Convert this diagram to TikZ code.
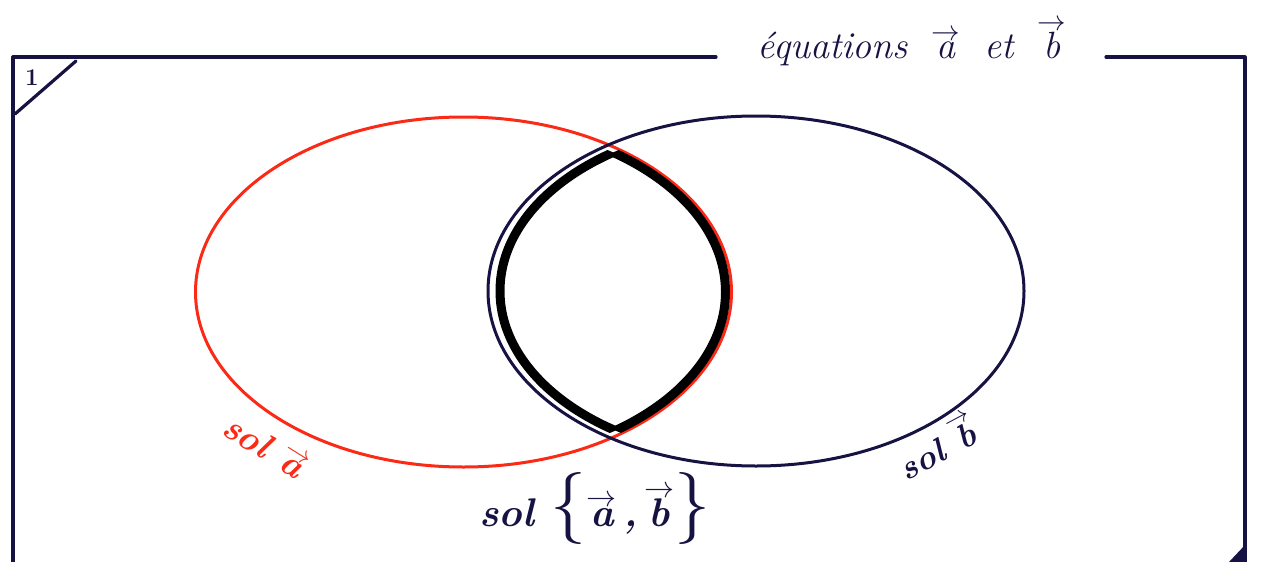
\RequirePackage{fix-cm}
\documentclass[tikz,border=0pt]{standalone}
\definecolor{navy}{RGB}{22,18,66}
\definecolor{redink}{RGB}{250,42,22}
\newcommand\vv[1]{\leavevmode\vbox{\offinterlineskip\halign{\hfil##\hfil\cr \resizebox{0.75em}{!}{$\rightarrow$}\cr\noalign{\kern1pt}\textit{#1}\cr}}}
\begin{document}
\begin{tikzpicture}[x=1pt,y=-1pt,
  frame/.style={navy,line width=3.2pt,line cap=round,line join=round},
  ellred/.style={redink,line width=3pt},
  ellblue/.style={navy,line width=3pt},
  lens/.style={black,line width=9pt},
  hand/.style={font=\fontsize{30}{34}\selectfont\itshape, inner sep=0pt},
  boldhand/.style={font=\fontsize{30}{34}\selectfont\bfseries\itshape, inner sep=0pt}]
\useasboundingbox (0,0) rectangle (1264,562);
% frame
\coordinate (tl) at (13,57);
\coordinate (t1) at (716,57);
\coordinate (t2) at (1106,57);
\coordinate (tr) at (1245,57);
\coordinate (bl) at (13,566);
\coordinate (br) at (1245,566);
\draw[frame] (t1) -- (tl) -- (bl);
\draw[frame] (t2) -- (tr) -- (br);
\node[hand,navy,anchor=base] (title) at (912,58) {\fontsize{38}{42}\selectfont équations\; \vv{a}\; et\; \vv{b}};
% corner mark
\coordinate (c1) at (76,61);
\coordinate (c2) at (15,114);
\draw[frame] (c1) -- (c2);
\node[font=\bfseries\fontsize{24}{26}\selectfont, navy] (one) at (32,78) {1};
\fill[navy] (1229,562) -- (1245,545) -- (1245,562) -- cycle;
% ellipses
\coordinate (ca) at (463.5,292);
\coordinate (cb) at (756,291);
\draw[ellred] (ca) ellipse [x radius=268, y radius=175];
\draw[ellblue] (cb) ellipse [x radius=268, y radius=175];
% lens
\begin{scope}
  \clip (ca) ellipse [x radius=262, y radius=170];
  \draw[lens] (cb) ellipse [x radius=256, y radius=167];
\end{scope}
\begin{scope}
  \clip (cb) ellipse [x radius=256, y radius=167];
  \draw[lens] (ca) ellipse [x radius=262, y radius=170];
\end{scope}
% labels
\node[boldhand,redink,rotate=-32] (sola) at (266,446) {\fontsize{36}{40}\selectfont sol \vv{a}};
\node[boldhand,navy,rotate=28] (solb) at (937,446) {\fontsize{34}{38}\selectfont sol \vv{b}};
\node[boldhand,navy] (solab) at (595,508) {\fontsize{40}{44}\selectfont sol \resizebox{!}{1.35em}{$\{$}\vv{a}\,,\,\vv{b}\resizebox{!}{1.35em}{$\}$}};
\end{tikzpicture}
\end{document}
